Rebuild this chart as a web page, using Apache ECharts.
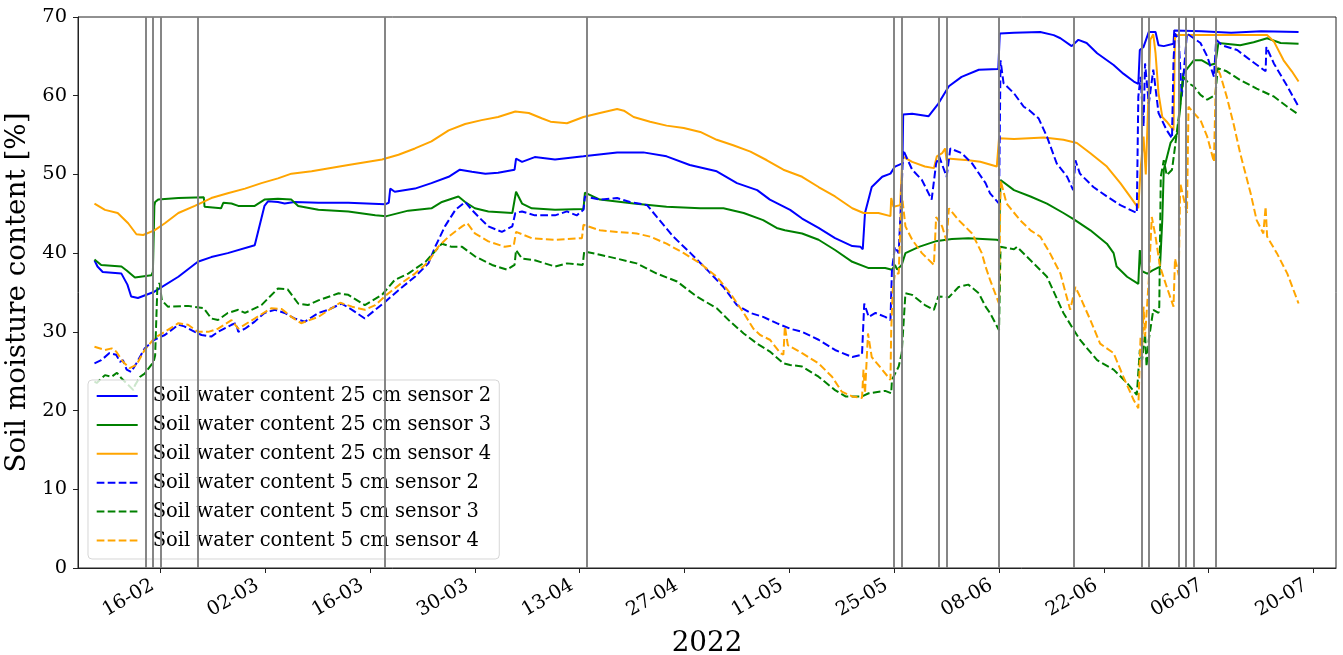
<!DOCTYPE html>
<html>
<head>
<meta charset="utf-8">
<script src="https://cdn.jsdelivr.net/npm/echarts@6/dist/echarts.min.js"></script>
<style>
  html, body { margin: 0; padding: 0; background: #ffffff; }
  #chart { width: 1343px; height: 655px; }
</style>
</head>
<body>
<div id="chart"></div>
<script>
// Soil moisture time series, 2022. x = day of year (1 = 1 January), y = volumetric water content [%].

// Bi-weekly date ticks (day of year) and their labels (dd-mm)
const tickDays = [47, 61, 75, 89, 103, 117, 131, 145, 159, 173, 187, 201];
const tickLabels = ['16-02', '02-03', '16-03', '30-03', '13-04', '27-04', '11-05', '25-05', '08-06', '22-06', '06-07', '20-07'];

// Irrigation / rain events (day of year), drawn as vertical lines
const eventDays = [45, 46, 47, 52, 77, 104, 145, 146, 151, 152, 159, 169, 178, 179, 183, 184, 185, 188];

// 25 cm depth, sensor 2
const sw25_s2 = [[38.2,39.1],[38.6,38.3],[39.3,37.6],[41.8,37.4],[42.6,36.0],[43.1,34.5],[44.0,34.3],[46.2,35.1],[49.4,37.0],[52.0,38.9],[53.8,39.5],[56.0,40.0],[59.6,41.0],[60.9,46.0],[61.4,46.6],[62.7,46.5],[63.6,46.3],[64.9,46.5],[68.1,46.4],[72.1,46.4],[77.0,46.2],[77.5,46.4],[77.7,48.2],[78.3,47.8],[81.0,48.2],[83.2,48.9],[85.5,49.7],[87.0,50.6],[88.6,50.35],[90.4,50.1],[92.1,50.2],[94.3,50.6],[94.5,52.0],[95.3,51.6],[97.0,52.2],[99.7,51.9],[103.5,52.3],[108.0,52.8],[111.5,52.8],[114.6,52.3],[117.7,51.2],[121.3,50.4],[124.0,48.9],[126.7,48.0],[128.4,46.8],[131.1,45.5],[132.7,44.4],[134.9,43.2],[137.1,41.9],[139.4,40.9],[140.5,40.8],[140.8,40.5],[141.1,45.1],[142.0,48.4],[143.4,49.7],[144.5,50.1],[145.1,51.0],[146.1,51.4],[146.2,57.6],[147.4,57.7],[149.6,57.4],[150.9,59.0],[152.3,61.2],[154.0,62.4],[156.3,63.3],[158.9,63.4],[159.1,67.9],[161.0,68.0],[164.5,68.1],[166.3,67.7],[167.2,67.3],[168.7,66.3],[169.6,67.1],[170.7,66.7],[172.1,65.4],[174.3,63.9],[175.6,62.8],[177.0,61.8],[177.6,61.5],[177.8,65.8],[178.3,66.2],[179.0,68.1],[179.9,68.1],[180.3,66.4],[181.0,66.3],[182.3,66.6],[182.4,68.3],[186.0,68.2],[190.0,68.0],[194.0,68.2],[199.0,68.1]];

// 25 cm depth, sensor 3
const sw25_s3 = [[38.2,39.2],[39.1,38.5],[41.8,38.3],[42.5,37.8],[43.6,36.9],[45.8,37.2],[46.0,37.6],[46.2,46.0],[46.3,46.5],[46.7,46.8],[49.4,47.0],[52.8,47.1],[52.9,45.9],[55.1,45.7],[55.4,46.4],[56.5,46.3],[57.4,46.0],[59.6,46.0],[60.9,46.8],[62.7,46.9],[64.5,46.8],[65.4,46.0],[68.1,45.5],[72.1,45.3],[75.7,44.8],[77.2,44.7],[80.1,45.4],[83.2,45.7],[84.6,46.5],[86.8,47.2],[87.7,46.5],[89.0,45.7],[90.8,45.3],[94.0,45.1],[94.5,47.8],[95.3,46.3],[96.6,45.7],[99.7,45.5],[103.5,45.6],[103.7,47.7],[105.7,46.8],[110.2,46.3],[114.6,45.9],[119.1,45.7],[122.2,45.7],[124.9,45.1],[127.5,44.2],[129.3,43.2],[130.4,42.9],[132.7,42.5],[134.9,41.7],[137.1,40.4],[139.4,38.9],[141.6,38.1],[143.8,38.1],[144.7,37.9],[145.1,38.5],[145.4,37.9],[146.0,38.5],[146.5,40.0],[148.3,40.8],[150.5,41.5],[152.7,41.8],[154.9,41.9],[158.7,41.7],[159.0,41.6],[159.2,49.3],[161.0,48.0],[163.2,47.2],[165.4,46.3],[167.6,45.1],[169.0,44.3],[171.2,42.9],[173.4,41.2],[174.3,40.0],[174.7,38.3],[176.1,37.0],[177.6,36.1],[177.8,40.4],[178.1,37.7],[178.8,37.4],[179.5,37.8],[180.1,38.1],[180.5,38.3],[180.8,44.2],[181.0,50.6],[181.9,54.0],[182.8,55.2],[183.2,58.5],[183.6,62.8],[185.0,64.5],[186.1,64.5],[187.2,63.9],[187.9,64.1],[188.3,66.7],[191.2,66.4],[193.0,66.8],[194.8,67.3],[196.6,66.7],[199.0,66.6]];

// 25 cm depth, sensor 4
const sw25_s4 = [[38.2,46.3],[39.6,45.5],[41.3,45.1],[42.7,43.8],[43.8,42.4],[44.7,42.3],[46.2,42.9],[47.6,43.8],[49.4,45.1],[51.6,46.0],[53.8,47.0],[56.0,47.6],[58.3,48.2],[60.5,48.9],[62.7,49.5],[64.5,50.1],[67.2,50.4],[72.1,51.2],[76.6,51.9],[78.8,52.5],[81.0,53.3],[83.2,54.2],[85.5,55.6],[87.7,56.4],[89.9,56.9],[92.1,57.3],[94.4,58.0],[96.2,57.8],[98.0,57.1],[99.1,56.7],[101.3,56.5],[103.5,57.3],[105.7,57.8],[108.0,58.3],[108.9,58.1],[110.2,57.3],[112.4,56.7],[114.6,56.2],[116.9,55.9],[119.1,55.4],[121.3,54.4],[123.5,53.7],[125.8,52.9],[128.0,51.8],[130.2,50.6],[132.7,49.7],[134.9,48.4],[137.1,47.2],[139.4,45.7],[140.9,45.1],[142.9,45.1],[144.5,44.7],[144.6,47.0],[144.9,45.9],[145.8,46.1],[146.1,52.3],[147.4,51.6],[149.1,51.0],[150.3,50.8],[150.7,52.3],[151.4,52.7],[151.8,53.3],[152.0,51.8],[152.5,52.0],[154.9,51.8],[156.5,51.6],[158.7,51.0],[159.0,54.6],[161.0,54.5],[165.0,54.7],[167.6,54.4],[169.4,54.0],[171.2,52.7],[173.4,51.0],[175.2,48.9],[176.8,46.8],[177.6,45.7],[177.9,50.6],[178.3,54.8],[178.6,50.0],[179.2,67.1],[179.6,67.8],[179.9,65.4],[180.3,60.3],[180.8,57.3],[181.4,56.7],[182.3,55.6],[182.5,67.7],[186.8,67.7],[194.8,67.7],[195.7,66.9],[197.0,64.5],[198.1,63.1],[199.0,61.8]];

// 5 cm depth, sensor 2
const sw5_s2 = [[38.2,26.0],[39.1,26.4],[40.2,27.3],[41.1,27.1],[41.6,26.2],[42.0,26.4],[42.5,25.2],[43.1,24.9],[43.8,26.0],[44.9,27.9],[46.2,29.0],[47.6,29.6],[49.4,30.9],[50.2,30.7],[51.6,30.0],[52.5,29.6],[53.8,29.4],[54.7,30.0],[56.5,30.9],[57.1,31.1],[57.4,30.0],[58.3,30.4],[59.6,31.3],[60.9,32.4],[62.3,32.8],[63.6,32.4],[64.9,31.7],[66.3,31.3],[68.1,32.4],[69.4,32.8],[71.2,33.6],[72.6,32.8],[74.3,31.7],[75.7,32.8],[77.0,33.8],[78.8,35.3],[81.0,37.0],[82.8,38.7],[83.7,40.8],[85.0,43.4],[86.4,45.5],[87.7,46.5],[88.6,45.5],[89.5,44.6],[90.8,43.4],[92.6,42.7],[94.0,43.4],[94.4,45.1],[95.3,45.3],[97.0,44.8],[99.7,44.8],[101.3,45.3],[102.6,44.8],[103.5,45.5],[103.7,47.2],[105.7,46.8],[108.0,47.0],[109.7,46.5],[112.0,46.1],[113.3,44.6],[115.5,42.1],[117.8,40.0],[120.0,37.9],[122.2,35.7],[124.0,33.4],[125.8,32.4],[127.5,31.9],[129.3,31.1],[131.1,30.4],[132.7,30.0],[134.9,29.0],[137.1,27.7],[139.4,26.8],[140.7,27.1],[141.0,33.6],[141.6,31.9],[142.5,32.4],[143.8,31.9],[144.5,31.5],[144.7,37.9],[145.1,40.8],[145.6,40.0],[146.0,48.4],[146.2,53.1],[147.4,50.6],[148.7,49.3],[150.0,46.8],[150.6,51.4],[151.0,52.3],[152.0,49.7],[152.5,53.3],[154.0,52.7],[155.4,51.4],[157.2,48.9],[157.8,47.6],[159.0,46.3],[159.2,64.5],[159.6,61.6],[161.0,60.3],[162.3,58.6],[163.0,58.2],[164.3,57.1],[165.4,54.8],[166.7,51.4],[168.1,49.7],[168.9,48.0],[169.2,51.8],[169.8,50.1],[171.6,48.4],[173.4,47.2],[175.2,46.1],[177.4,45.1],[177.6,59.9],[177.9,62.4],[178.3,56.1],[178.5,64.1],[179.0,59.0],[179.6,63.3],[180.3,57.8],[181.4,55.6],[182.1,54.6],[182.3,64.5],[182.5,67.9],[183.0,67.1],[183.4,59.9],[184.1,67.9],[185.0,67.3],[185.9,66.7],[186.8,65.0],[187.7,62.4],[188.0,67.1],[188.8,66.4],[190.8,65.8],[192.6,64.5],[194.6,63.1],[194.7,66.2],[195.7,64.1],[197.5,61.2],[199.0,58.6]];

// 5 cm depth, sensor 3
const sw5_s3 = [[38.2,23.7],[38.5,23.5],[39.6,24.5],[40.5,24.3],[41.2,24.8],[41.8,24.1],[43.4,22.6],[43.6,23.2],[44.3,24.3],[44.9,24.7],[46.1,26.2],[46.3,27.0],[46.6,35.7],[46.9,36.2],[47.2,34.0],[48.0,33.2],[50.7,33.3],[52.8,33.0],[53.8,31.7],[54.7,31.5],[56.0,32.4],[57.4,32.8],[58.3,32.4],[60.5,33.4],[62.7,35.5],[64.0,35.4],[65.4,33.6],[66.7,33.4],[68.1,34.0],[70.8,34.9],[72.1,34.7],[74.3,33.4],[76.6,34.7],[78.3,36.6],[80.1,37.4],[82.4,38.9],[84.6,41.2],[85.9,40.8],[87.3,40.8],[89.0,39.6],[91.3,38.5],[93.3,37.9],[94.3,38.5],[94.5,40.4],[95.3,39.3],[97.0,39.1],[99.7,38.3],[101.3,38.7],[103.4,38.5],[103.6,40.2],[105.7,39.8],[108.0,39.3],[110.6,38.7],[113.3,37.4],[116.0,36.4],[118.6,34.5],[121.3,33.0],[123.1,31.3],[124.9,29.8],[126.7,28.5],[128.4,27.5],[130.2,26.0],[131.1,25.8],[132.7,25.6],[134.9,24.3],[137.1,22.6],[138.5,21.8],[140.7,21.8],[141.6,22.2],[143.8,22.5],[144.6,22.2],[144.7,23.9],[145.6,25.6],[146.0,27.3],[146.5,34.9],[147.4,34.7],[149.1,33.4],[150.3,32.8],[150.9,34.5],[152.3,34.4],[153.6,35.7],[154.9,36.0],[156.3,34.9],[157.2,33.2],[157.8,32.4],[159.0,30.2],[159.2,40.8],[161.0,40.5],[161.4,40.8],[163.2,39.1],[165.4,37.0],[167.6,32.4],[169.0,30.2],[169.8,29.0],[172.1,26.4],[174.3,25.2],[176.1,23.5],[177.4,22.0],[177.8,27.7],[178.1,26.4],[178.5,29.8],[178.7,25.6],[179.0,29.0],[179.6,32.8],[180.3,32.4],[180.4,33.2],[180.6,49.7],[181.0,51.8],[181.4,49.9],[182.1,50.6],[182.5,53.5],[183.0,57.3],[183.6,62.4],[184.3,61.6],[185.0,61.2],[185.9,60.1],[186.8,59.5],[187.9,60.1],[188.2,63.5],[189.4,63.1],[191.2,62.0],[193.4,60.9],[195.7,59.9],[197.5,58.6],[199.0,57.6]];

// 5 cm depth, sensor 4
const sw5_s4 = [[38.2,28.1],[39.6,27.7],[40.5,27.9],[41.1,27.5],[42.0,26.2],[42.9,25.4],[43.8,25.8],[44.9,27.7],[46.2,29.2],[47.6,30.0],[49.4,31.1],[50.7,30.9],[52.0,30.0],[53.4,30.0],[54.7,30.4],[56.5,31.5],[57.4,30.4],[59.6,31.7],[61.8,33.0],[63.2,32.9],[64.5,31.9],[65.8,31.1],[68.1,31.9],[71.0,33.7],[72.6,33.2],[74.3,32.8],[75.7,33.4],[77.2,34.7],[79.2,36.2],[81.0,37.4],[82.8,38.9],[84.1,40.8],[85.5,42.1],[87.3,43.4],[88.0,43.8],[89.0,42.5],[90.8,41.5],[93.0,40.8],[94.2,41.0],[94.5,42.7],[96.6,41.9],[99.7,41.7],[103.3,41.9],[103.5,43.6],[105.7,42.9],[108.0,42.7],[110.6,42.5],[112.4,42.1],[114.6,41.2],[116.9,40.0],[119.1,38.7],[121.3,37.0],[123.1,34.9],[124.9,32.4],[126.2,30.4],[127.1,29.6],[128.4,29.0],[129.8,27.3],[130.2,27.1],[130.4,30.7],[130.8,28.3],[132.7,27.3],[134.9,26.0],[136.7,24.3],[138.0,22.4],[139.4,21.8],[140.7,21.6],[140.9,25.2],[141.1,22.2],[141.5,29.8],[142.0,26.8],[143.4,25.2],[144.5,23.9],[144.6,30.2],[144.8,35.3],[145.1,37.4],[145.6,37.4],[145.9,45.5],[146.1,46.8],[146.5,43.4],[147.4,41.7],[148.7,40.0],[150.3,38.5],[150.6,44.6],[151.4,43.4],[152.0,41.5],[152.3,45.7],[153.6,44.2],[155.4,42.5],[156.7,40.0],[157.2,38.3],[157.8,36.6],[159.0,33.6],[159.2,49.3],[160.0,46.3],[161.8,44.2],[163.2,42.9],[164.5,42.1],[165.8,40.0],[167.2,37.4],[168.5,32.8],[169.2,35.7],[169.8,34.5],[171.2,31.5],[172.5,28.5],[174.3,27.3],[175.6,24.3],[177.0,21.3],[177.6,20.3],[177.9,29.4],[178.1,27.3],[178.3,33.2],[178.5,29.4],[179.0,36.6],[179.4,44.6],[179.9,42.1],[180.5,38.3],[181.4,35.7],[182.3,33.2],[182.5,39.3],[183.0,37.2],[183.2,48.9],[183.6,47.2],[184.1,45.1],[184.3,58.6],[185.0,57.8],[185.9,56.9],[186.8,54.8],[187.7,51.6],[188.0,63.7],[188.5,62.8],[189.4,59.9],[190.3,56.5],[191.2,52.7],[192.6,47.6],[193.4,44.2],[194.3,42.5],[194.6,45.9],[194.8,42.1],[196.1,40.0],[197.5,37.4],[199.0,33.6]];

const FONT = '"DejaVu Serif", "Liberation Serif", serif';
const BLUE = '#0000ff', GREEN = '#008000', ORANGE = '#ffa500';
const DASH = [7.7, 3.3];

function sensorLine(name, data, color, dashed) {
  return {
    name: name,
    type: 'line',
    data: data,
    symbol: 'none',
    showSymbol: false,
    z: 2,
    lineStyle: { color: color, width: 2, type: dashed ? DASH : 'solid' },
    itemStyle: { color: color },
    emphasis: { disabled: true }
  };
}

const seriesList = [
  sensorLine('Soil water content 25 cm sensor 2', sw25_s2, BLUE, false),
  sensorLine('Soil water content 25 cm sensor 3', sw25_s3, GREEN, false),
  sensorLine('Soil water content 25 cm sensor 4', sw25_s4, ORANGE, false),
  sensorLine('Soil water content 5 cm sensor 2', sw5_s2, BLUE, true),
  sensorLine('Soil water content 5 cm sensor 3', sw5_s3, GREEN, true),
  sensorLine('Soil water content 5 cm sensor 4', sw5_s4, ORANGE, true),
  {
    name: 'events',
    type: 'line',
    data: [],
    z: 3,
    silent: true,
    markLine: {
      silent: true,
      symbol: ['none', 'none'],
      label: { show: false },
      animation: false,
      lineStyle: { color: '#808080', width: 2, type: 'solid', opacity: 0.95 },
      emphasis: { disabled: true },
      data: eventDays.map(d => ({ xAxis: d }))
    }
  }
];

const chart = echarts.init(document.getElementById('chart'), null, { renderer: 'canvas' });
chart.setOption({
  animation: false,
  backgroundColor: '#ffffff',
  textStyle: { fontFamily: FONT },
  grid: {
    left: 78, right: 7, top: 17, bottom: 87,
    outerBoundsMode: 'none',
    containLabel: false,
    show: true, borderColor: '#222', borderWidth: 1, backgroundColor: 'transparent'
  },
  legend: {
    orient: 'vertical',
    left: 88, top: 380,
    data: seriesList.slice(0, 6).map(s => s.name),
    itemWidth: 41, itemHeight: 14, itemGap: 8.9,
    padding: [6, 8, 8.5, 7.7],
    backgroundColor: 'rgba(255,255,255,0.8)',
    borderColor: 'rgba(204,204,204,0.8)', borderWidth: 1, borderRadius: 4,
    selectedMode: false,
    itemStyle: { opacity: 0 },
    textStyle: { fontFamily: FONT, fontSize: 19.5, lineHeight: 20, color: '#000', padding: [0, 0, 0, 10] }
  },
  xAxis: {
    type: 'value',
    min: 36, max: 204,
    name: '2022',
    nameLocation: 'middle',
    nameGap: 62,
    nameTextStyle: { fontFamily: FONT, fontSize: 27.8, color: '#000' },
    axisLine: { show: true, lineStyle: { color: '#222', width: 1 } },
    axisTick: { show: true, customValues: tickDays, length: 5, inside: false, lineStyle: { color: '#222', width: 1 } },
    axisLabel: {
      customValues: tickDays,
      rotate: 30,
      margin: 11.5,
      padding: [0, 9, 0, 0],
      fontFamily: FONT, fontSize: 19.4, color: '#000',
      formatter: v => { const i = tickDays.indexOf(Math.round(v)); return i >= 0 ? tickLabels[i] : ''; }
    },
    splitLine: { show: false }
  },
  yAxis: {
    type: 'value',
    min: 0, max: 70, interval: 10,
    name: 'Soil moisture content [%]',
    nameLocation: 'middle',
    nameGap: 40,
    nameRotate: 90,
    nameTextStyle: { fontFamily: FONT, fontSize: 27.8, color: '#000' },
    axisLine: { show: true, lineStyle: { color: '#222', width: 1 } },
    axisTick: { show: true, length: 5, inside: false, lineStyle: { color: '#222', width: 1 } },
    axisLabel: { margin: 11, fontFamily: FONT, fontSize: 19.4, color: '#000' },
    splitLine: { show: false }
  },
  series: seriesList
});
</script>
</body>
</html>
